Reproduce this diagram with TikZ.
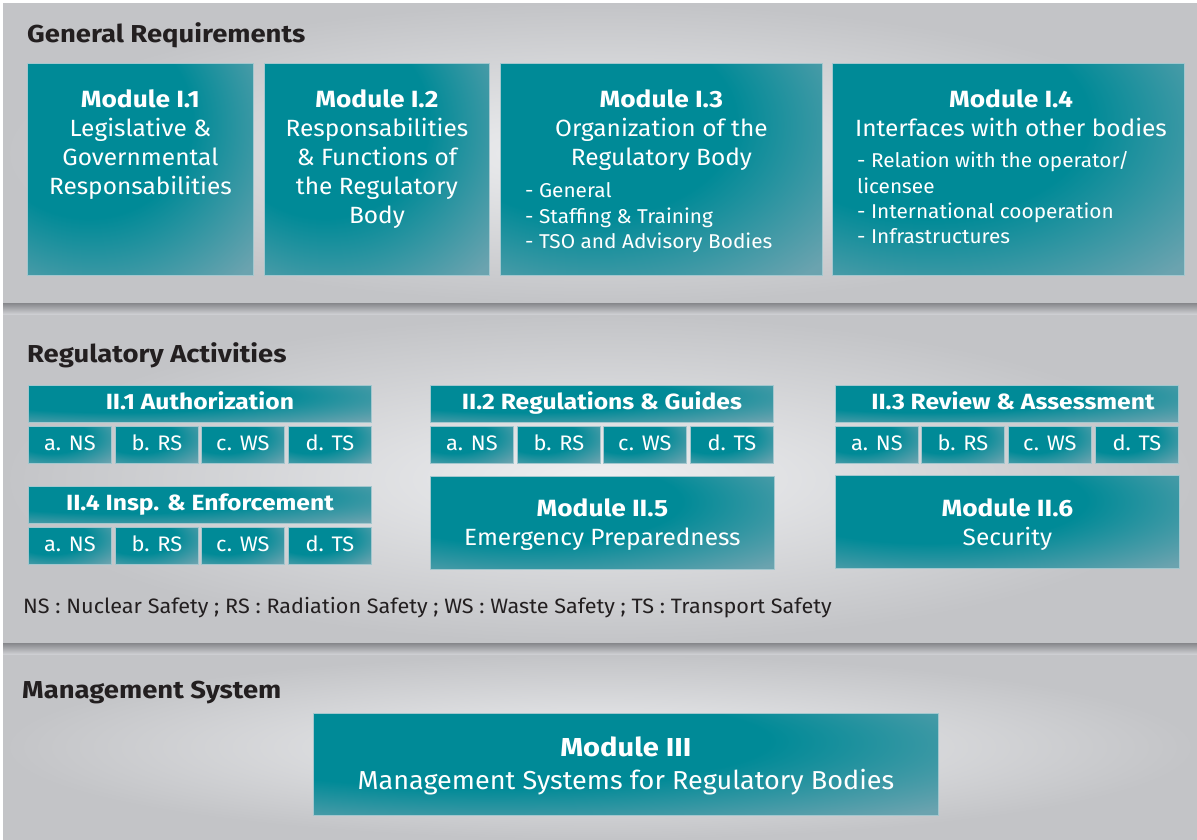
\documentclass[tikz,border=0pt]{standalone}
\usepackage{fontspec}
\setmainfont{Fira Sans}[UprightFeatures={FakeStretch=1.04}, BoldFeatures={FakeStretch=1.12}]
\usepackage{tikz}
\usetikzlibrary{calc}

\definecolor{tealA}{HTML}{008A97}
\definecolor{tealB}{HTML}{6BA3AF}
\definecolor{tealE}{HTML}{A3C7CE}
\definecolor{inkgray}{HTML}{231F20}
\definecolor{bgin}{HTML}{EEEFF1}
\definecolor{bgout}{HTML}{C3C4C7}
\definecolor{bardark}{HTML}{86878B}
\definecolor{barlight}{HTML}{D4D5D8}

\pgfdeclareradialshading{tealfade}{\pgfpoint{-15bp}{15bp}}{color(0bp)=(tealA); color(23bp)=(tealA); color(45bp)=(tealB); color(100bp)=(tealB)}

\tikzset{
  modbox/.style={anchor=north west, inner sep=0pt, shade, shading=tealfade, draw=tealE, line width=0.8pt},
  headbox/.style={modbox, text=white, font=\bfseries\fontsize{22}{26}\selectfont, text height=15pt, text depth=4pt},
  subbox/.style={modbox, text=white, font=\fontsize{21}{26}\selectfont, minimum width=83pt, minimum height=37pt, text height=15pt, text depth=4pt},
  modtext/.style={anchor=base, inner sep=0pt, align=center, text=white, font=\fontsize{23.5}{29}\selectfont},
  listtext/.style={anchor=base west, inner sep=0pt, align=left, text=white, font=\fontsize{20}{25.4}\selectfont},
  sectitle/.style={anchor=base west, inner sep=0pt, text=inkgray, font=\bfseries\fontsize{24.5}{29}\selectfont},
  panel/.style={inner color=bgin, outer color=bgout},
  sepbar/.style={top color=bardark, bottom color=barlight}
}

\begin{document}
\begin{tikzpicture}[x=1pt,y=-1pt]

\useasboundingbox (0,0) rectangle (1197,839);
\fill[white] (0,0) rectangle (1197,839);

% panels and separators
\shade[panel] (3,3) rectangle (1197,303);
\shade[sepbar] (3,303) rectangle (1197,315);
\shade[panel] (3,315) rectangle (1197,643);
\shade[sepbar] (3,643) rectangle (1197,655);
\shade[panel] (3,655) rectangle (1197,839);

% General Requirements
\node[sectitle] (gr) at (27,42) {General Requirements};

\node[modbox, minimum width=226pt, minimum height=212pt] (m11) at (27,63) {};
\node[modbox, minimum width=225pt, minimum height=212pt] (m12) at (264,63) {};
\node[modbox, minimum width=322pt, minimum height=212pt] (m13) at (500,63) {};
\node[modbox, minimum width=352pt, minimum height=212pt] (m14) at (832,63) {};

% multi-line nodes sit on their last baseline
\node[modtext] (m11t) at (m11 |- 0,194) {\textbf{Module I.1}\\Legislative \&\\Governmental\\Responsabilities};
\node[modtext] (m12t) at (m12 |- 0,223) {\textbf{Module I.2}\\Responsabilities\\\& Functions of\\the Regulatory\\Body};
\node[modtext] (m13t) at (m13 |- 0,165) {\textbf{Module I.3}\\Organization of the\\Regulatory Body};
\node[listtext] (m13l) at (525,248.5) {- General\\- Staffing \& Training\\- TSO and Advisory Bodies};
\node[modtext] (m14t) at (1011,136) {\textbf{Module I.4}\\Interfaces with other bodies};
\node[listtext] (m14l) at (857,243.9) {- Relation with the operator/\\licensee\\- International cooperation\\- Infrastructures};

% Regulatory Activities
\node[sectitle] (ra) at (27,362) {Regulatory Activities};

\node[headbox, minimum width=343pt, minimum height=37pt] (a21) at (28,385) {II.1 Authorization};
\node[subbox] (a21a) at (28,426) {a. NS};
\node[subbox] (a21b) at (115,426) {b. RS};
\node[subbox] (a21c) at (201,426) {c. WS};
\node[subbox] (a21d) at (288,426) {d. TS};

\node[headbox, minimum width=343pt, minimum height=37pt] (a24) at (28,486) {II.4 Insp. \& Enforcement};
\node[subbox] (a24a) at (28,527) {a. NS};
\node[subbox] (a24b) at (115,527) {b. RS};
\node[subbox] (a24c) at (201,527) {c. WS};
\node[subbox] (a24d) at (288,527) {d. TS};

\node[headbox, minimum width=343pt, minimum height=37pt] (a22) at (430,385) {II.2 Regulations \& Guides};
\node[subbox] (a22a) at (430,426) {a. NS};
\node[subbox] (a22b) at (517,426) {b. RS};
\node[subbox] (a22c) at (603,426) {c. WS};
\node[subbox] (a22d) at (690,426) {d. TS};

\node[modbox, minimum width=344pt, minimum height=93pt] (m25) at (430,476) {};
\node[modtext] (m25t) at (m25 |- 0,545.7) {\textbf{Module II.5}\\Emergency Preparedness};

\node[headbox, minimum width=343pt, minimum height=37pt] (a23) at (835,385) {\hspace{12pt}II.3 Review \& Assessment};
\node[subbox] (a23a) at (835,426) {a. NS};
\node[subbox] (a23b) at (921,426) {b. RS};
\node[subbox] (a23c) at (1008,426) {c. WS};
\node[subbox] (a23d) at (1095,426) {d. TS};

\node[modbox, minimum width=344pt, minimum height=93pt] (m26) at (835,475) {};
\node[modtext] (m26t) at (m26 |- 0,545.2) {\textbf{Module II.6}\\Security};

\node[anchor=base west, inner sep=0pt, text=inkgray, font=\fontsize{20.8}{24}\selectfont] (note) at (23,613)
  {NS : Nuclear Safety ; RS : Radiation Safety ; WS : Waste Safety ; TS : Transport Safety};

% Management System
\node[sectitle] (ms) at (22,698) {Management System};

\node[modbox, minimum width=625pt, minimum height=102pt] (m3) at (313,713) {};
\node[modtext, font=\fontsize{26}{32.6}\selectfont] (m3t) at (m3 |- 0,789.3) {\textbf{Module III}\\Management Systems for Regulatory Bodies};

\end{tikzpicture}
\end{document}
